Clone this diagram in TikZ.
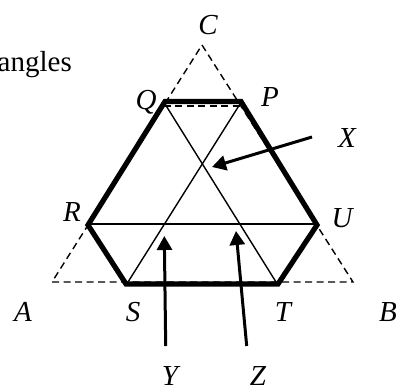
\documentclass[tikz,border=0pt]{standalone}
\usepackage{fontspec}
\setmainfont{Liberation Serif}
\usetikzlibrary{arrows.meta}
\begin{document}
\begin{tikzpicture}[x=1pt,y=-1pt,
  lbl/.style={inner sep=0pt,font=\fontsize{29}{34}\selectfont\itshape},
  dashline/.style={dashed,dash pattern=on 7pt off 4.5pt,line width=1.4pt},
  thinline/.style={line width=1.4pt},
  hexline/.style={line width=5.2pt,line join=miter},
  pointer/.style={line width=3pt,-{Triangle[length=14pt,width=15pt]}}]
\useasboundingbox (0,0) rectangle (396,388);
% dashed triangle
\coordinate (A) at (52,282);
\coordinate (B) at (353,282);
\coordinate (C) at (202,45);
\coordinate (dq) at (163.5,106);
\coordinate (dp) at (241,106);
\draw[dashline] (A) -- (B) -- (C) -- cycle;
\draw[dashline] (dq) -- (dp);
% hexagon
\coordinate (S) at (126,284);
\coordinate (T) at (278,284);
\coordinate (U) at (317,225);
\coordinate (P) at (241,101.5);
\coordinate (Q) at (165,101.5);
\coordinate (R) at (88,225);
% thin lines
\coordinate (s1) at (128,282);
\coordinate (t1) at (276,282);
\coordinate (p1) at (240,104);
\coordinate (q1) at (165,104);
\coordinate (r1) at (89,224);
\coordinate (u1) at (316,224);
\draw[thinline] (s1) -- (p1);
\draw[thinline] (t1) -- (q1);
\draw[thinline] (r1) -- (u1);
\draw[hexline] (S) -- (T) -- (U) -- (P) -- (Q) -- (R) -- cycle;
% labels
\node[lbl] (lC) at (208,25) {C};
\node[lbl] (lP) at (270,97) {P};
\node[lbl] (lX) at (347,138) {X};
\node[lbl] (lQ) at (146,102) {Q};
\node[lbl] (lR) at (72,212) {R};
\node[lbl] (lU) at (342,218) {U};
\node[lbl] (lA) at (23,312) {A};
\node[lbl] (lS) at (133,312) {S};
\node[lbl] (lT) at (283,312) {T};
\node[lbl] (lB) at (388,312) {B};
\node[lbl] (lY) at (170,376) {Y};
\node[lbl] (lZ) at (258,376) {Z};
\node[inner sep=0pt,anchor=base east,font=\fontsize{29}{34}\selectfont] (ang) at (72,71.5) {angles};
% arrows
\coordinate (xt) at (312,137);
\coordinate (xh) at (212,167);
\coordinate (yt) at (165.7,346);
\coordinate (yh) at (164.3,236);
\coordinate (zt) at (246.7,346);
\coordinate (zh) at (236,231);
\draw[pointer] (xt) -- (xh);
\draw[pointer] (yt) -- (yh);
\draw[pointer] (zt) -- (zh);
\end{tikzpicture}
\end{document}
